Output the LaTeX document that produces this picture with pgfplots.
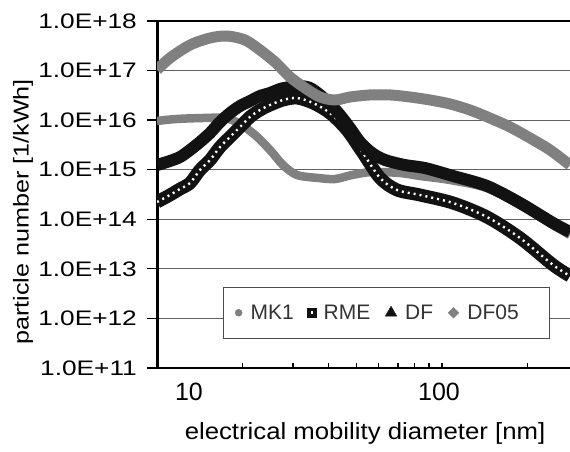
\documentclass[border=0pt]{standalone}
\usepackage{fontspec}
\setmainfont{Liberation Sans}
\newfontfamily\widesans{Liberation Sans}[FakeStretch=1.25]
\newfontfamily\ylabelfont{Liberation Sans}[FakeStretch=1.17]
\newfontfamily\xlabelfont{Liberation Sans}[FakeStretch=1.1]
\usepackage{pgfplots}
\pgfplotsset{compat=1.18}
\usepackage{pgfplotstable}

\definecolor{seriesgray}{HTML}{808080}
\definecolor{seriesblack}{HTML}{121212}

% particle number per kWh vs. electrical mobility diameter (nm)
\pgfplotstableread{
d      N
10.00  9.61e15
11.57  1.05e16
14.15  1.10e16
17.32  1.10e16
19.56  8.36e15
22.08  5.01e15
24.92  2.50e15
27.68  1.24e15
30.99  7.82e14
36.73  6.81e14
42.13  6.49e14
48.33  7.82e14
56.80  8.99e14
71.24  8.58e14
83.71  7.47e14
106.7  6.20e14
143.9  4.27e14
187.8  1.94e14
245.2  7.67e13
281.2  4.82e13
}\mkone

\pgfplotstableread{
d      N
10.00  2.23e14
11.10  3.09e14
12.04  4.08e14
13.06  5.39e14
14.15  9.87e14
15.35  1.57e15
16.64  2.87e15
18.04  4.57e15
19.56  7.27e15
21.20  1.16e16
22.98  1.60e16
24.92  2.02e16
27.68  2.55e16
30.99  2.80e16
35.27  2.22e16
40.46  1.39e16
46.42  6.33e15
52.82  2.17e15
60.60  6.81e14
69.53  3.90e14
83.71  3.09e14
109.3  2.13e14
143.9  1.11e14
187.8  4.19e13
245.2  1.20e13
281.2  7.18e12
}\rme

\pgfplotstableread{
d      N
10.00  1.24e15
11.10  1.50e15
12.04  1.80e15
13.06  2.50e15
14.15  3.62e15
15.35  5.50e15
16.64  9.17e15
18.04  1.39e16
19.56  1.93e16
21.20  2.43e16
22.98  3.07e16
24.92  3.53e16
27.02  4.25e16
29.29  4.66e16
31.76  4.88e16
34.43  4.45e16
37.33  3.22e16
40.46  2.12e16
43.87  1.27e16
47.56  6.94e15
51.56  3.62e15
56.80  2.17e15
63.10  1.57e15
74.18  1.24e15
87.17  1.08e15
109.3  7.47e14
143.9  4.69e14
187.8  2.13e14
245.2  8.41e13
281.2  5.54e13
}\df

\pgfplotstableread{
d      N
10.00  1.03e17
11.10  1.79e17
13.06  3.28e17
15.35  4.54e17
17.60  4.98e17
20.36  4.14e17
22.98  2.60e17
25.94  1.49e17
29.29  7.42e16
33.06  4.45e16
37.33  2.93e16
42.13  2.55e16
47.56  2.93e16
55.89  3.22e16
65.70  3.22e16
77.23  2.93e16
90.76  2.55e16
106.7  2.12e16
125.4  1.60e16
147.4  1.10e16
173.2  7.27e15
203.6  4.36e15
239.3  2.50e15
281.2  1.24e15
}\dfofive

\begin{document}
\begin{tikzpicture}
\useasboundingbox (0,0) rectangle (570bp,452bp);
\begin{axis}[
  at={(157bp,84bp)}, anchor=south west,
  scale only axis, width=413bp, height=347bp,
  xmode=log, ymode=log,
  xmin=10, xmax=281.2, ymin=1e11, ymax=1e18,
  axis x line=box, axis y line=left,
  axis line style={-},
  x axis line style={-, line width=2.6bp, black},
  y axis line style={-, line width=3bp, black},
  tick align=inside, tick pos=left,
  xtick={10},
  xticklabels={},
  minor xtick={20,30,40,50,60,70,80,90,100,200},
  minor tick length=5.5bp, major tick length=10bp,
  extra x ticks={12.95,97.6},
  extra x tick labels={10,100},
  extra x tick style={major tick length=0pt, tick style={draw=none}},
  xticklabel style={font=\fontsize{25bp}{30bp}\selectfont, inner sep=0pt, yshift=-15bp, text=black},
  xtick style={line width=1.3bp, black},
  ytick={1e11,1e12,1e13,1e14,1e15,1e16,1e17,1e18},
  yticklabels={1.0E+11,1.0E+12,1.0E+13,1.0E+14,1.0E+15,1.0E+16,1.0E+17,1.0E+18},
  yminorticks=false,
  ytick style={xshift=-10bp, line width=1.3bp, black},
  yticklabel style={font=\widesans\fontsize{21bp}{25bp}\selectfont, inner sep=0pt, xshift=-20bp, text=black},
  ymajorgrids,
  grid style={line width=1.2bp, black!62},
  xlabel={electrical mobility diameter [nm]},
  ylabel={particle number [1/kWh]},
  xlabel style={at={(axis description cs:0.5036,-0.190)}, anchor=center,
    font=\xlabelfont\fontsize{23.4bp}{28bp}\selectfont, text=black},
  ylabel style={at={(axis description cs:-0.3245,0.45)}, anchor=center,
    font=\ylabelfont\fontsize{21.5bp}{26bp}\selectfont, text=black},
  legend columns=4,
  legend cell align=left,
  legend image code/.code={\draw[#1] plot coordinates {(0bp,0bp)};},
  legend style={at={(axis description cs:0.1598,0.0836)}, anchor=south west,
    draw=black!70, line width=1.3bp, fill=white,
    inner xsep=11.5bp, inner ysep=17.5bp,
    font=\fontsize{21bp}{25bp}\selectfont, text=black!80,
    nodes={inner sep=0pt},
    /tikz/every odd column/.append style={column sep=8.5bp},
    /tikz/every even column/.append style={column sep=15bp}},
]
% measured series, drawn as dense marker bands
\addplot[forget plot, seriesgray, line width=8.5bp, smooth, line join=round] table[x=d,y=N] {\mkone};
\addplot[forget plot, seriesblack, line width=13bp, smooth, line join=round] table[x=d,y=N] {\rme};
\addplot[forget plot, white, line width=2.4bp, dash pattern=on 2bp off 4bp, smooth] table[x=d,y=N] {\rme};
\addplot[forget plot, seriesblack, line width=12bp, smooth, line join=round] table[x=d,y=N] {\df};
\addplot[forget plot, seriesgray, line width=11bp, smooth, line join=round] table[x=d,y=N] {\dfofive};

% legend markers
\addlegendimage{only marks, mark=*, mark size=3.5bp, mark options={fill=seriesgray, draw=seriesgray, line width=0.4bp}}
\addlegendentry{MK1}
\addlegendimage{only marks, mark=square*, mark size=3.2bp, mark options={fill=white, draw=seriesblack, line width=3.5bp}}
\addlegendentry{RME}
\addlegendimage{only marks, mark=triangle*, mark size=6.5bp, mark options={fill=seriesblack, draw=seriesblack, line width=0.5bp}}
\addlegendentry{DF}
\addlegendimage{only marks, mark=square*, mark size=3.8bp, mark options={rotate=45, fill=seriesgray, draw=seriesgray, line width=0.4bp}}
\addlegendentry{DF05\hspace*{19bp}}
\end{axis}
\end{tikzpicture}
\end{document}
